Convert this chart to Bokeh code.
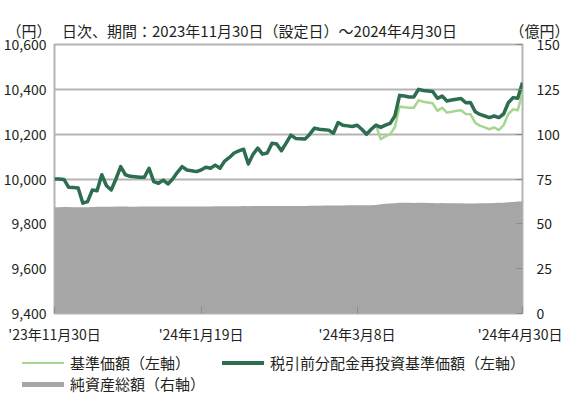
import pandas as pd
from bokeh.plotting import figure
from bokeh.layouts import column
from bokeh.models import (Range1d, LinearAxis, FixedTicker, Title, Div,
                          NumeralTickFormatter)
from bokeh.embed import file_html
from bokeh.resources import INLINE

# ---------------- data ----------------
holidays = ["2023-12-29", "2024-01-01", "2024-01-02", "2024-01-03", "2024-01-08",
            "2024-02-12", "2024-02-23", "2024-03-20", "2024-04-29"]
dates = [d for d in pd.bdate_range("2023-11-30", "2024-04-30").strftime("%Y-%m-%d")
         if d not in holidays]

tick_dates = ["2023-11-30", "2024-01-19", "2024-03-08", "2024-04-30"]
tick_labels = ["'23年11月30日", "'24年1月19日", "'24年3月8日", "'24年4月30日"]

# 税引前分配金再投資基準価額 (left axis, yen)
nav_reinvested = [
    10000, 10000, 9998, 9963, 9962, 9960, 9892, 9899, 9951, 9948,
    10019, 9970, 9951, 10000, 10055, 10019, 10012, 10010, 10008, 10008,
    10048, 9988, 9981, 9995, 9978, 10000, 10030, 10055, 10040, 10037,
    10033, 10040, 10052, 10048, 10062, 10048, 10080, 10096, 10116, 10125,
    10133, 10067, 10110, 10138, 10111, 10116, 10159, 10156, 10126, 10160,
    10196, 10181, 10180, 10178, 10200, 10227, 10222, 10220, 10218, 10204,
    10252, 10240, 10237, 10234, 10240, 10222, 10200, 10222, 10240, 10230,
    10240, 10248, 10281, 10373, 10370, 10366, 10366, 10400, 10395, 10393,
    10390, 10360, 10370, 10348, 10352, 10356, 10359, 10340, 10341, 10300,
    10288, 10281, 10274, 10281, 10274, 10290, 10340, 10363, 10360, 10430,
]

# 基準価額 (left axis, yen)
nav = [
    10000, 10000, 9998, 9963, 9962, 9960, 9892, 9899, 9951, 9948,
    10019, 9970, 9951, 10000, 10055, 10019, 10012, 10010, 10008, 10008,
    10048, 9988, 9981, 9995, 9978, 10000, 10030, 10055, 10040, 10037,
    10033, 10040, 10052, 10048, 10062, 10048, 10080, 10096, 10116, 10125,
    10133, 10067, 10110, 10138, 10111, 10116, 10159, 10156, 10126, 10160,
    10196, 10181, 10180, 10178, 10200, 10227, 10222, 10220, 10218, 10204,
    10252, 10240, 10237, 10234, 10240, 10222, 10200, 10222, 10240, 10178,
    10190, 10200, 10231, 10323, 10320, 10318, 10318, 10351, 10345, 10341,
    10338, 10304, 10318, 10296, 10300, 10304, 10307, 10290, 10289, 10250,
    10238, 10230, 10222, 10230, 10218, 10240, 10290, 10311, 10307, 10385,
]

# 純資産総額 (right axis, 億円)
net_assets = [
    59.3, 59.3, 59.4, 59.4, 59.3, 59.3, 59.2, 59.3, 59.4, 59.5,
    59.5, 59.5, 59.5, 59.6, 59.6, 59.6, 59.5, 59.5, 59.6, 59.6,
    59.6, 59.6, 59.6, 59.6, 59.6, 59.6, 59.6, 59.7, 59.7, 59.7,
    59.7, 59.7, 59.7, 59.7, 59.8, 59.8, 59.8, 59.8, 59.8, 59.8,
    59.9, 59.8, 59.9, 59.9, 59.9, 59.9, 60.0, 60.0, 59.9, 60.0,
    60.0, 60.0, 60.0, 60.0, 60.1, 60.1, 60.1, 60.2, 60.2, 60.2,
    60.2, 60.2, 60.3, 60.3, 60.4, 60.3, 60.3, 60.4, 60.5, 60.9,
    61.2, 61.3, 61.5, 61.7, 61.7, 61.7, 61.6, 61.7, 61.7, 61.6,
    61.6, 61.5, 61.6, 61.5, 61.5, 61.5, 61.5, 61.4, 61.4, 61.4,
    61.5, 61.5, 61.5, 61.6, 61.7, 61.8, 62.0, 62.2, 62.4, 62.6,
]

left_ticks = [9400, 9600, 9800, 10000, 10200, 10400, 10600]
right_ticks = [0, 25, 50, 75, 100, 125, 150]

title_text = "日次、期間：2023年11月30日（設定日）～2024年4月30日"
left_unit = "（円）"
right_unit = "（億円）"
legend_labels = ["基準価額（左軸）", "税引前分配金再投資基準価額（左軸）", "純資産総額（右軸）"]

# ---------------- style ----------------
FONT = "Noto Sans CJK JP"
TXT = "#231f20"
DARK = "#2e6e50"
LIGHT = "#a8d590"
AREA = "#a6a6a6"
GRID = "#b4b4b4"

x = list(range(len(dates)))
tick_idx = [dates.index(d) for d in tick_dates]

# ---------------- main chart ----------------
p = figure(width=562, height=346, output_backend="svg", toolbar_location=None,
           x_range=Range1d(0, len(dates) - 1), y_range=Range1d(left_ticks[0], left_ticks[-1]),
           min_border_left=52, min_border_right=39, min_border_top=44, min_border_bottom=32)
p.extra_y_ranges = {"right": Range1d(right_ticks[0], right_ticks[-1])}
p.background_fill_color = "white"
p.border_fill_color = "white"
p.outline_line_color = GRID
p.outline_line_width = 2

p.varea(x=x, y1=[0] * len(x), y2=net_assets, y_range_name="right",
        fill_color=AREA, fill_alpha=1.0)
p.line(x, nav, line_color=LIGHT, line_width=2.5, line_join="round")
p.line(x, nav_reinvested, line_color=DARK, line_width=3.5, line_join="round")

for ax in (p.xaxis[0], p.yaxis[0]):
    ax.major_label_text_font = FONT
    ax.major_label_text_font_size = "14px"
    ax.major_label_text_color = TXT
    ax.axis_line_color = None
    ax.minor_tick_line_color = None
    ax.minor_tick_out = 0
    ax.minor_tick_in = 0

p.xaxis.ticker = FixedTicker(ticks=tick_idx)
p.xaxis.major_label_overrides = {i: t for i, t in zip(tick_idx, tick_labels)}
p.xaxis.major_tick_in = 7
p.xaxis.major_tick_out = 0
p.xaxis.major_tick_line_color = "#8c8c8c"
p.xaxis.major_label_standoff = 10

p.yaxis.ticker = FixedTicker(ticks=left_ticks)
p.yaxis.formatter = NumeralTickFormatter(format="0,0")
p.yaxis.major_tick_line_color = None
p.yaxis.major_tick_out = 0
p.yaxis.major_label_standoff = 8

raxis = LinearAxis(y_range_name="right", ticker=FixedTicker(ticks=right_ticks),
                   axis_line_color=None, major_tick_in=6, major_tick_out=0,
                   minor_tick_in=0, minor_tick_out=0,
                   major_tick_line_color="#8c8c8c", minor_tick_line_color=None,
                   major_label_text_font=FONT, major_label_text_font_size="14px",
                   major_label_text_color=TXT, major_label_standoff=14)
p.add_layout(raxis, "right")

p.xgrid.visible = False
p.ygrid.ticker = FixedTicker(ticks=left_ticks)
p.ygrid.grid_line_color = GRID
p.ygrid.grid_line_width = 2

# header line: unit (left), title, unit (right)
header = left_unit + "\u2002\u2009" + title_text + "\u3000\u3000\u3000\u2002" + right_unit
p.add_layout(Title(text=header, align="left", offset=-48, text_font=FONT,
                   text_font_size="15px", text_font_style="normal", text_color=TXT,
                   standoff=8), "above")

# ---------------- legend ----------------
def key(left, top, w, h, color):
    return (f'<div style="position:absolute;left:{left}px;top:{top}px;width:{w}px;'
            f'height:{h}px;background:{color};"></div>')

def lab(left, top, text):
    return (f'<div style="position:absolute;left:{left}px;top:{top}px;line-height:18px;'
            f'white-space:nowrap;">{text}</div>')

legend_html = (
    f'<div style="position:relative;width:562px;height:47px;font-family:\'{FONT}\';'
    f'font-size:15px;color:{TXT};">'
    + key(22, 16, 42, 2, LIGHT) + lab(70, 8, legend_labels[0])
    + key(222, 15, 42, 4, DARK) + lab(270, 8, legend_labels[1])
    + key(22, 36, 42, 5, AREA) + lab(70, 29, legend_labels[2])
    + '</div>'
)
legend_div = Div(text=legend_html, width=562, height=47, margin=0)

layout = column(p, legend_div, spacing=0)
open("out.html", "w").write(file_html(layout, INLINE))
